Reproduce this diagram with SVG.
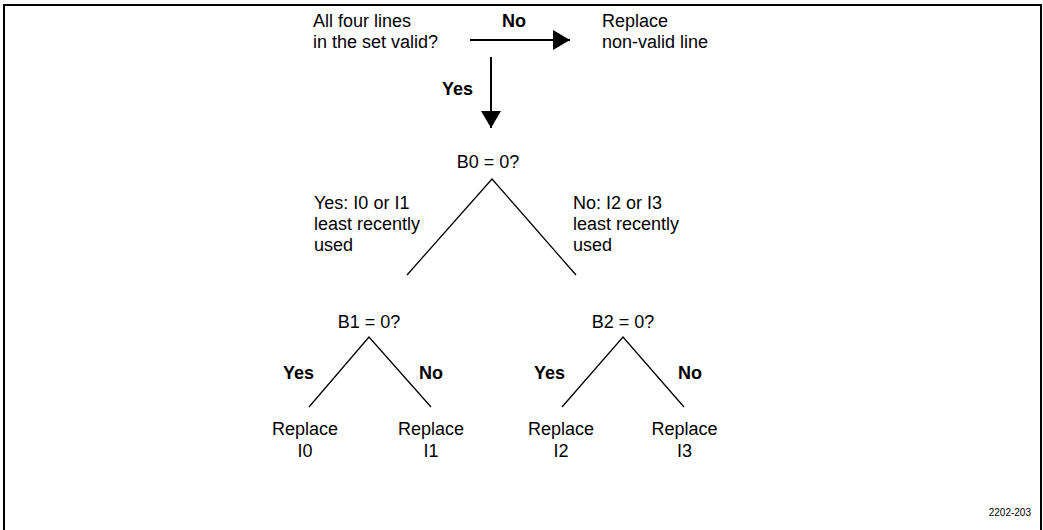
<svg xmlns="http://www.w3.org/2000/svg" width="1043" height="530" viewBox="0 0 1043 530">
<style>
text{font-family:"Liberation Sans",Arial,sans-serif;font-size:18px;fill:#000}
.b{font-weight:bold}
.m{text-anchor:middle}
.tree{stroke:#000;stroke-width:1.3;fill:none}
.arr{stroke:#000;stroke-width:2;fill:none}
</style>
<defs>
<marker id="ah" markerWidth="17" markerHeight="20" refX="17" refY="10" orient="auto" markerUnits="userSpaceOnUse">
<path d="M0,0 L17,10 L0,20 Z" fill="#000"/>
</marker>
</defs>
<rect width="1043" height="530" fill="#fff"/>
<rect x="4" y="5" width="1037" height="540" fill="none" stroke="#000" stroke-width="2"/>
<g id="connectors">
<line class="arr" x1="470" y1="40" x2="570" y2="40" marker-end="url(#ah)"/>
<line class="arr" x1="491" y1="57" x2="491" y2="128" marker-end="url(#ah)"/>
<polyline class="tree" points="407,275 492,179 576,275"/>
<polyline class="tree" points="309,407 369,337 431,407"/>
<polyline class="tree" points="562,407 623,337 684,407"/>
<text class="b" x="502" y="27">No</text>
<text class="b" x="442" y="95">Yes</text>
<text x="314" y="209">Yes: I0 or I1</text>
<text x="314" y="230">least recently</text>
<text x="314" y="251">used</text>
<text x="573" y="209">No: I2 or I3</text>
<text x="573" y="230">least recently</text>
<text x="573" y="251">used</text>
<text class="b" x="283" y="379">Yes</text>
<text class="b" x="419" y="379">No</text>
<text class="b" x="534" y="379">Yes</text>
<text class="b" x="678" y="379">No</text>
</g>
<g id="n-start"><text x="313" y="27">All four lines</text><text x="313" y="48">in the set valid?</text></g>
<g id="n-replace-invalid"><text x="602" y="27">Replace</text><text x="602" y="48">non-valid line</text></g>
<g id="n-b0"><text class="m" x="488" y="168">B0 = 0?</text></g>
<g id="n-b1"><text class="m" x="369" y="328">B1 = 0?</text></g>
<g id="n-b2"><text class="m" x="623" y="328">B2 = 0?</text></g>
<g id="n-l0"><text class="m" x="305" y="435">Replace</text><text class="m" x="305" y="457">I0</text></g>
<g id="n-l1"><text class="m" x="431" y="435">Replace</text><text class="m" x="431" y="457">I1</text></g>
<g id="n-l2"><text class="m" x="561" y="435">Replace</text><text class="m" x="561" y="457">I2</text></g>
<g id="n-l3"><text class="m" x="684.5" y="435">Replace</text><text class="m" x="684.5" y="457">I3</text></g>
<g id="fig-id"><text x="1031" y="516" style="font-size:10px;text-anchor:end">2202-203</text></g>
</svg>
